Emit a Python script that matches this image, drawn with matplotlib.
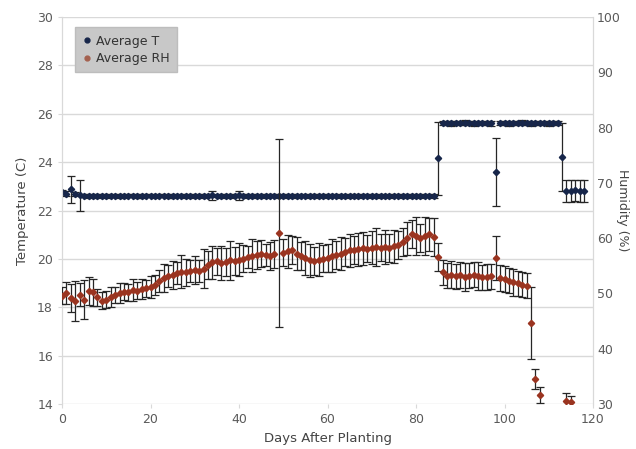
import numpy as np
import matplotlib
matplotlib.use("Agg")
import matplotlib.pyplot as plt
from matplotlib.lines import Line2D

nan = np.nan

# Days after planting (one reading per day)
days = list(range(119))

# Average temperature (C) and its spread
temp_avg = [
    22.75, 22.70, 22.88, 22.68, 22.63, 22.62, 22.61, 22.62, 22.60, 22.62,
    22.61, 22.62, 22.62, 22.60, 22.61, 22.62, 22.62, 22.61, 22.60, 22.62,
    22.62, 22.61, 22.62, 22.62, 22.60, 22.61, 22.62, 22.62, 22.61, 22.62,
    22.60, 22.62, 22.61, 22.62, 22.63, 22.62, 22.61, 22.62, 22.60, 22.62,
    22.63, 22.62, 22.61, 22.62, 22.60, 22.62, 22.61, 22.62, 22.62, 22.61,
    22.62, 22.60, 22.62, 22.61, 22.62, 22.62, 22.61, 22.62, 22.60, 22.62,
    22.61, 22.62, 22.62, 22.61, 22.62, 22.60, 22.62, 22.61, 22.62, 22.62,
    22.61, 22.62, 22.60, 22.62, 22.61, 22.62, 22.62, 22.61, 22.62, 22.60,
    22.62, 22.61, 22.62, 22.62, 22.61, 24.15, 25.62, 25.62, 25.61, 25.62,
    25.62, 25.63, 25.62, 25.61, 25.62, 25.62, 25.62, 25.61, 23.60, 25.62,
    25.62, 25.61, 25.62, 25.62, 25.63, 25.62, 25.61, 25.62, 25.62, 25.62,
    25.61, 25.62, 25.62, 24.20, 22.82, 22.80, 22.83, 22.81, 22.82,
]
temp_err = [
    0.08, 0.10, 0.55, 0.10, 0.65, 0.08, 0.08, 0.08, 0.08, 0.08,
    0.08, 0.08, 0.08, 0.08, 0.08, 0.08, 0.08, 0.08, 0.08, 0.08,
    0.08, 0.08, 0.08, 0.08, 0.08, 0.08, 0.08, 0.08, 0.08, 0.08,
    0.08, 0.08, 0.08, 0.08, 0.18, 0.08, 0.08, 0.08, 0.08, 0.08,
    0.18, 0.08, 0.08, 0.08, 0.08, 0.08, 0.08, 0.08, 0.08, 0.08,
    0.08, 0.08, 0.08, 0.08, 0.08, 0.08, 0.08, 0.08, 0.08, 0.08,
    0.08, 0.08, 0.08, 0.08, 0.08, 0.08, 0.08, 0.08, 0.08, 0.08,
    0.08, 0.08, 0.08, 0.08, 0.08, 0.08, 0.08, 0.08, 0.08, 0.08,
    0.08, 0.08, 0.08, 0.08, 0.08, 1.50, 0.10, 0.10, 0.10, 0.10,
    0.10, 0.10, 0.10, 0.10, 0.10, 0.10, 0.10, 0.10, 1.40, 0.10,
    0.10, 0.10, 0.10, 0.10, 0.10, 0.10, 0.10, 0.10, 0.10, 0.10,
    0.10, 0.10, 0.10, 1.40, 0.45, 0.45, 0.45, 0.45, 0.45,
]

# Average relative humidity (%) and its spread; gaps fall below the axis
rh_avg = [
    49.6, 50.0, 49.2, 48.6, 49.8, 48.9, 50.4, 50.2, 49.3, 48.7,
    48.9, 49.3, 49.7, 50.0, 50.3, 50.2, 50.6, 50.5, 50.8, 50.9,
    51.1, 51.5, 52.2, 52.8, 53.1, 53.3, 53.7, 53.9, 53.8, 54.0,
    54.2, 54.1, 54.5, 55.2, 55.6, 55.8, 55.5, 55.7, 56.0, 55.9,
    56.1, 56.3, 56.6, 56.8, 57.0, 57.2, 57.0, 56.8, 57.1, 60.9,
    57.4, 57.6, 57.9, 57.2, 56.8, 56.4, 56.0, 55.9, 56.1, 56.3,
    56.4, 56.8, 57.0, 57.2, 57.5, 57.8, 57.9, 58.0, 58.2, 58.1,
    58.3, 58.4, 58.3, 58.4, 58.2, 58.5, 58.8, 59.3, 60.0, 60.8,
    60.4, 60.0, 60.4, 60.7, 60.2, 56.6, 53.8, 53.2, 53.4, 53.1,
    53.3, 53.0, 53.2, 53.4, 53.1, 52.9, 53.0, 53.1, 56.4, 52.8,
    52.6, 52.3, 52.0, 51.8, 51.6, 51.4, 44.7, 34.5, 31.6, nan,
    nan, nan, nan, nan, 30.6, 30.4, nan, nan, nan,
]
rh_err = [
    1.5, 2.0, 2.5, 3.6, 2.0, 3.6, 2.5, 2.5, 1.5, 1.5,
    1.5, 1.8, 1.5, 1.8, 1.5, 1.5, 2.0, 1.5, 1.8, 1.5,
    2.0, 1.8, 2.0, 2.5, 2.0, 2.5, 2.0, 3.0, 2.5, 2.0,
    2.5, 2.0, 3.5, 2.5, 3.0, 2.5, 3.0, 2.5, 3.5, 2.5,
    3.0, 2.5, 2.0, 3.0, 2.5, 2.5, 2.0, 2.5, 2.5, 17.0,
    2.5, 3.0, 2.5, 3.0, 2.5, 3.0, 3.0, 2.5, 3.0, 2.5,
    2.5, 3.0, 2.5, 3.0, 2.5, 3.0, 2.5, 3.0, 3.0, 2.5,
    3.0, 3.5, 2.5, 3.0, 2.5, 3.0, 2.5, 2.5, 3.0, 2.5,
    3.5, 2.5, 3.5, 3.0, 3.5, 2.5, 2.3, 2.3, 2.5, 2.3,
    2.3, 2.5, 2.3, 2.3, 2.5, 2.3, 2.3, 2.3, 4.0, 2.3,
    2.3, 2.3, 2.5, 2.3, 2.3, 2.3, 6.5, 1.8, 1.5, nan,
    nan, nan, nan, nan, 1.3, 1.0, nan, nan, nan,
]

x_ticks = [0, 20, 40, 60, 80, 100, 120]
temp_ticks = [14, 16, 18, 20, 22, 24, 26, 28, 30]
rh_ticks = [30, 40, 50, 60, 70, 80, 90, 100]

temp_color = "#17264a"
rh_color = "#9a3420"
err_color = "#262626"
tick_color = "#5a5a5a"
grid_color = "#d9d9d9"

plt.rcParams["font.family"] = ["DejaVu Sans"]

fig = plt.figure(figsize=(6.36, 4.49), dpi=100)
ax = fig.add_axes([62 / 636, 45 / 449, 531 / 636, 387 / 449])
ax2 = ax.twinx()

ax.set_xlim(0, 120)
ax.set_ylim(14, 30)
ax2.set_ylim(30, 100)
ax.set_xticks(x_ticks)
ax.set_yticks(temp_ticks)
ax2.set_yticks(rh_ticks)

ax.grid(axis="y", color=grid_color, linewidth=1.0)
ax.set_axisbelow(True)

for a in (ax, ax2):
    for side in ("top", "bottom"):
        a.spines[side].set_visible(False)
    a.spines["left"].set_color(grid_color)
    a.spines["right"].set_color(grid_color)
    a.tick_params(colors=tick_color, labelsize=9, length=3, width=0.8)
    a.tick_params(axis="both", color=grid_color)
ax2.tick_params(axis="y", length=0, pad=3)

ax.errorbar(days, temp_avg, yerr=temp_err, fmt="D", color=temp_color,
            markersize=3.2, ecolor=err_color, elinewidth=0.9, capsize=3,
            capthick=0.9, zorder=3)
ax2.errorbar(days, rh_avg, yerr=rh_err, fmt="D", color=rh_color,
             markersize=3.2, ecolor=err_color, elinewidth=0.9, capsize=3,
             capthick=0.9, zorder=3)

ax.set_xlabel("Days After Planting", fontsize=9.5, color="#444444", labelpad=4)
ax.set_ylabel("Temperature (C)", fontsize=9.5, color="#444444", labelpad=6)
ax2.set_ylabel("Humidity (%)", fontsize=9, color="#444444", rotation=270,
               labelpad=6)

handles = [
    Line2D([], [], marker="o", linestyle="none", color=temp_color, markersize=3.5),
    Line2D([], [], marker="o", linestyle="none", color="#a4614f", markersize=3.5),
]
leg = ax2.legend(handles, ["Average T", "Average RH"], loc="upper left",
                 bbox_to_anchor=(0.012, 0.99), frameon=True, fancybox=False,
                 fontsize=9, handletextpad=0.3, handlelength=0.8,
                 borderpad=0.6, labelspacing=0.35)
leg.get_frame().set_facecolor("#c8c8c8")
leg.get_frame().set_edgecolor("#bdbdbd")
leg.get_frame().set_alpha(1.0)
for t in leg.get_texts():
    t.set_color("#333333")

fig.savefig("out.png", dpi=100)
